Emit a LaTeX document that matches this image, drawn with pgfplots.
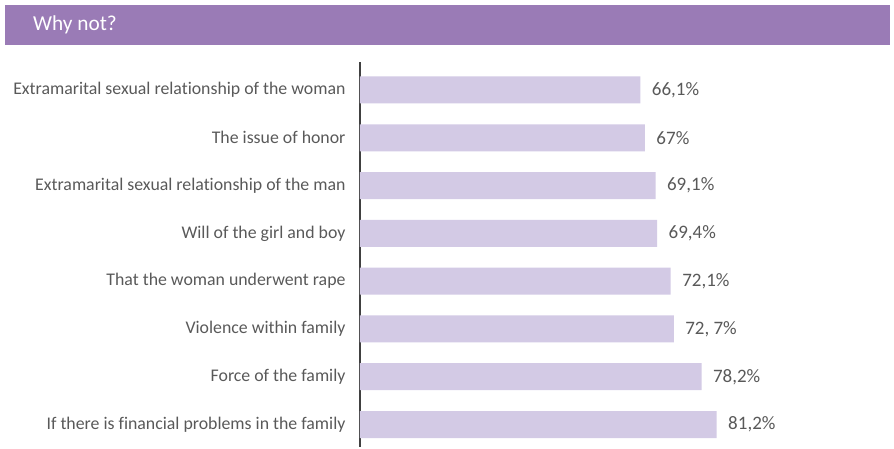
\documentclass[border=0pt]{standalone}
\usepackage{fontspec}
\setmainfont{Carlito}[Ligatures=CommonOff]
\usepackage{pgfplots}
\pgfplotsset{compat=1.18}
\usepackage{pgfplotstable}
\definecolor{hdr}{HTML}{9A7BB6}
\definecolor{barc}{HTML}{D3CAE5}
\definecolor{txt}{HTML}{595959}
\pgfplotstableread[col sep=semicolon]{
pos;val;lab
7;66.1;66,1\%
6;67;67\%
5;69.1;69,1\%
4;69.4;69,4\%
3;72.1;72,1\%
2;72.7;72, 7\%
1;78.2;78,2\%
0;81.2;81,2\%
}\data
\begin{document}
\begin{tikzpicture}
\path[use as bounding box] (0pt,0pt) rectangle (894pt,449pt);
\fill[hdr] (5pt,404pt) rectangle (890pt,444pt);
\node[anchor=west, text=white, font=\fontsize{21.3}{25}\selectfont, inner sep=0pt] at (33pt,424pt) {Why not?};
\begin{axis}[
  at={(360pt,2pt)}, anchor=south west,
  scale only axis, width=530pt, height=385pt,
  xmin=10.6, xmax=115.5, ymin=-0.47, ymax=7.586,
  axis x line=none, axis y line=left,
  axis line style={-, draw=black!75, line width=1.2pt},
  xbar, bar width=27pt,
  ytick={0,...,7},
  yticklabels={If there is financial problems in the family, Force of the family, Violence within family, That the woman underwent rape, Will of the girl and boy, Extramarital sexual relationship of the man, The issue of honor, Extramarital sexual relationship of the woman},
  major tick length=0pt,
  yticklabel style={font=\fontsize{17.8}{21}\selectfont, text=txt, xshift=-11pt},
  point meta=explicit symbolic,
  nodes near coords,
  nodes near coords style={anchor=west, xshift=8pt, font=\fontsize{19}{22}\selectfont, text=txt},
  clip=false,
]
\addplot[fill=barc, draw=none] table[x=val, y=pos, meta=lab] {\data};
\end{axis}
\end{tikzpicture}
\end{document}
